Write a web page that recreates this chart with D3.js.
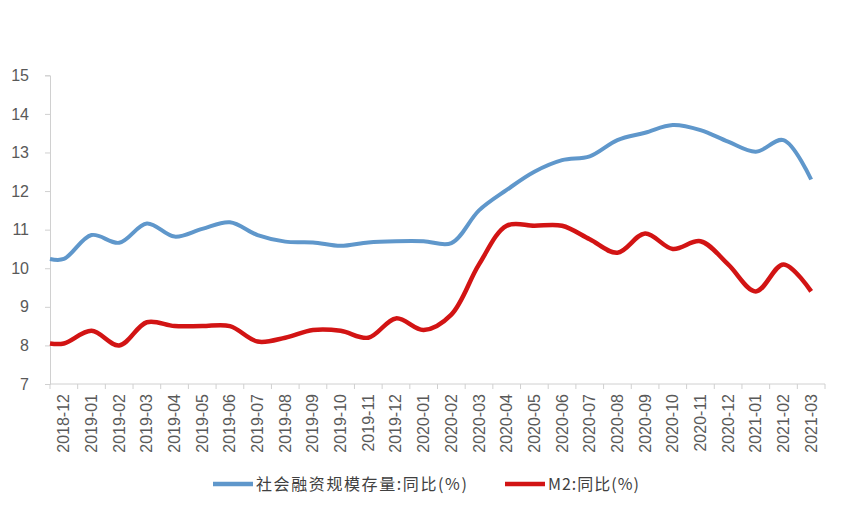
<!DOCTYPE html>
<html>
<head>
<meta charset="utf-8">
<script src="https://cdn.jsdelivr.net/npm/d3@7"></script>
<style>
  html, body { margin: 0; padding: 0; background: #fff; }
  svg { display: block; }
</style>
</head>
<body>
<svg id="chart" width="845" height="506"></svg>
<script>
const categories = ["2018-12","2019-01","2019-02","2019-03","2019-04","2019-05","2019-06","2019-07","2019-08","2019-09","2019-10","2019-11","2019-12","2020-01","2020-02","2020-03","2020-04","2020-05","2020-06","2020-07","2020-08","2020-09","2020-10","2020-11","2020-12","2021-01","2021-02","2021-03"];
const tsfValues = [10.24,10.86,10.66,11.16,10.82,11.02,11.19,10.86,10.69,10.67,10.58,10.67,10.70,10.70,10.65,11.5,12.03,12.5,12.8,12.9,13.32,13.51,13.71,13.58,13.28,13.02,13.32,12.3];
const m2Values = [8.05,8.38,8.0,8.6,8.5,8.5,8.5,8.1,8.2,8.4,8.38,8.2,8.7,8.4,8.8,10.1,11.1,11.1,11.1,10.75,10.4,10.9,10.5,10.7,10.1,9.4,10.1,9.4];
const yTicks = [7,8,9,10,11,12,13,14,15];
const seriesNames = ["社会融资规模存量:同比(%)", "M2:同比(%)"];
const seriesColors = ["#5f97cb", "#d21414"];

const svg = d3.select("#chart");

const x = d3.scaleBand().domain(categories).range([50, 825]).paddingInner(0).paddingOuter(0);
const y = d3.scaleLinear().domain([7, 15]).range([384, 75.3]);

const axisColor = "#d0d0d0";
const textColor = "#595959";

// Y axis
const yAxis = d3.axisLeft(y).tickValues(yTicks).tickSize(5).tickPadding(16).tickFormat(d3.format("d"));
const gy = svg.append("g").attr("transform", "translate(50,0)").call(yAxis);
gy.select(".domain").attr("stroke", axisColor);
gy.selectAll(".tick line").attr("stroke", axisColor);
gy.selectAll(".tick text").attr("fill", textColor).style("font-family", "'Liberation Sans', Arial, sans-serif").style("font-size", "16px");

// X axis
const gx = svg.append("g").attr("transform", "translate(0,384)");
gx.append("line").attr("x1", x.range()[0]).attr("x2", x.range()[1]).attr("y1", 0).attr("y2", 0).attr("stroke", axisColor);
const boundaries = categories.map(c => x(c)).concat([x.range()[1]]);
gx.selectAll("line.tk").data(boundaries).join("line").attr("class","tk")
  .attr("x1", d => d).attr("x2", d => d).attr("y1", 0).attr("y2", 5).attr("stroke", axisColor);
gx.selectAll("text").data(categories).join("text")
  .attr("transform", d => `translate(${x(d) + x.bandwidth()/2 + 5.5},10) rotate(-90)`)
  .attr("text-anchor", "end")
  .attr("fill", textColor)
  .style("font-family", "'Liberation Sans', Arial, sans-serif")
  .style("font-size", "16px")
  .text(d => d);

// Lines
const cx = d => x(d) + x.bandwidth()/2;
const line = d3.line().x(d => d[0]).y(d => y(d[1])).curve(d3.curveCatmullRom.alpha(0.5));
function pts(vals) {
  const p = categories.map((c, i) => [cx(c), vals[i]]);
  p.unshift([x.range()[0], vals[0]]);
  return p;
}
[tsfValues, m2Values].forEach((vals, i) => {
  svg.append("path").datum(pts(vals)).attr("d", line)
    .attr("fill", "none").attr("stroke", seriesColors[i])
    .attr("stroke-width", i === 0 ? 4 : 4.5)
    .attr("stroke-linejoin", "round").attr("stroke-linecap", "butt");
});

// Legend
const legend = svg.append("g").attr("transform", "translate(0,484)");
const legendX = [213, 505];
seriesNames.forEach((name, i) => {
  const g = legend.append("g").attr("transform", `translate(${legendX[i]},0)`);
  g.append("line").attr("x1", 0).attr("x2", 40).attr("y1", 0).attr("y2", 0)
    .attr("stroke", seriesColors[i]).attr("stroke-width", 4.5);
  g.append("text").attr("x", 43).attr("y", 6)
    .attr("fill", "#404040")
    .style("font-family", "'Noto Sans CJK SC', sans-serif")
    .style("font-size", "16px")
    .style("letter-spacing", i === 0 ? "1.6px" : "1px")
    .text(name);
});
</script>
</body>
</html>
